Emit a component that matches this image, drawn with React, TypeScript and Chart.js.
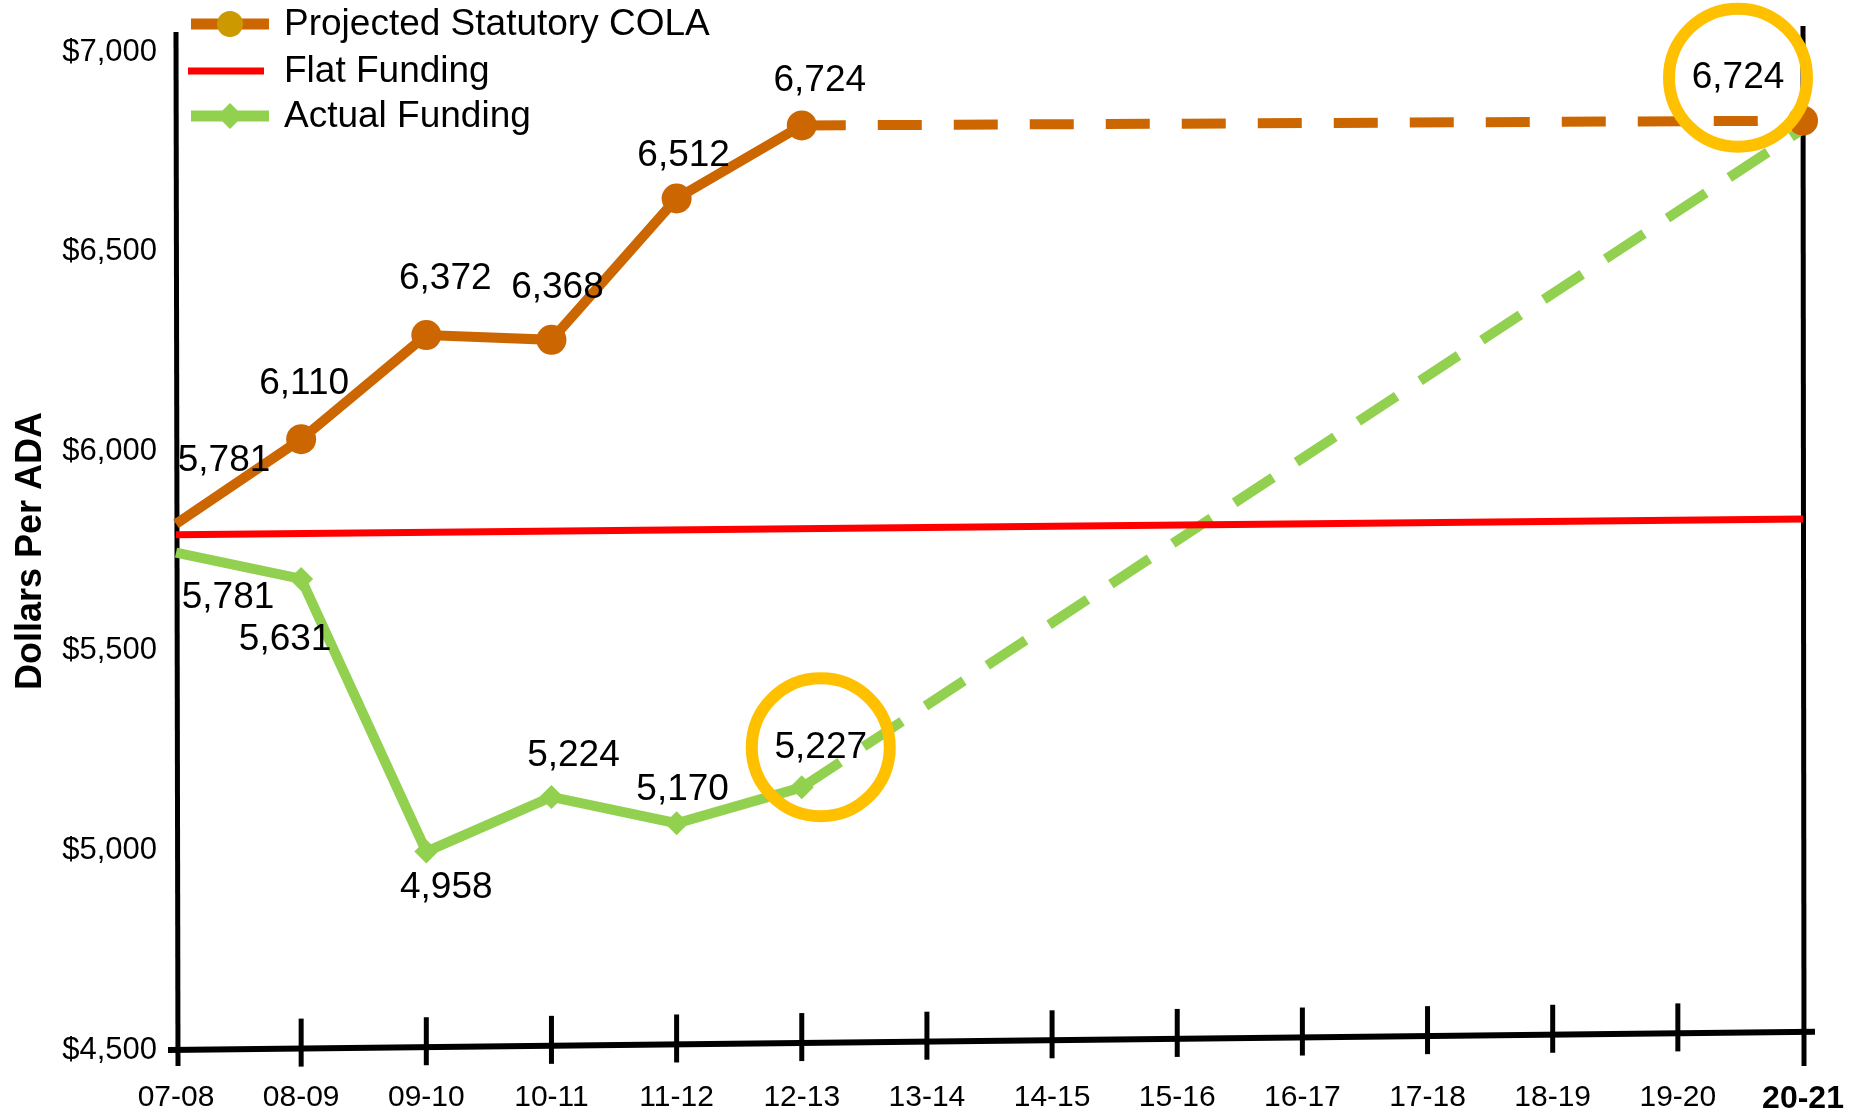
import React, { useEffect, useRef } from "react";
import { Chart, registerables } from "chart.js";

Chart.register(...registerables);

// ---------- DATA ----------
const categories = [
  "07-08", "08-09", "09-10", "10-11", "11-12", "12-13", "13-14",
  "14-15", "15-16", "16-17", "17-18", "18-19", "19-20", "20-21",
];

// Plotted positions (read against the y axis)
const colaValues = [5818, 6030, 6291, 6279, 6633, 6816, null, null, null, null, null, null, null, 6828];
const flatValues = [5791, null, null, null, null, null, null, null, null, null, null, null, null, 5830];
const actualValues = [5746, 5680, 4997, 5134, 5068, 5158, null, null, null, null, null, null, null, 6807];

// Printed data labels
const colaLabels = ["5,781", "6,110", "6,372", "6,368", "6,512", "6,724", null, null, null, null, null, null, null, "6,724"];
const actualLabels = ["5,781", "5,631", "4,958", "5,224", "5,170", "5,227", null, null, null, null, null, null, null, null];

const seriesNames = ["Projected Statutory COLA", "Flat Funding", "Actual Funding"];
const yMin = 4500;
const yMax = 7000;
const yStep = 500;
const lastActualIndex = 5; // after this the series are projections (dashed)

// ---------- STYLE ----------
const FONT = "'Liberation Sans', Arial, Helvetica, sans-serif";
const COLA = "#CC6600";
const COLA_LEGEND_MARK = "#CC9900";
const FLAT = "#FF0000";
const ACTUAL = "#92D050";
const RING = "#FFC000";

// label offsets relative to each point (px)
const colaLabelOffsets: Record<number, [number, number]> = {
  0: [48, -63], 1: [3, -55], 2: [19, -56], 3: [6, -52], 4: [7, -43], 5: [18, -45], 13: [-65, -43],
};
const actualLabelOffsets: Record<number, [number, number]> = {
  0: [52, 45], 1: [-16, 61], 2: [20, 36], 3: [22, -41], 4: [6, -33], 5: [19, -40],
};
const ringed = [
  { dataset: 0, index: 13 },
  { dataset: 2, index: 5 },
];

function labelPos(chart: any, ds: number, idx: number) {
  const el = chart.getDatasetMeta(ds).data[idx];
  const off = ds === 0 ? colaLabelOffsets[idx] : actualLabelOffsets[idx];
  return { x: el.x + off[0], y: el.y + off[1] };
}

const axesPlugin = {
  id: "handAxes",
  beforeDatasetsDraw(chart: any) {
    const { ctx, chartArea, scales } = chart;
    const { left, right, top, bottom } = chartArea;
    const tilt = 18;
    const axisY = (px: number) => bottom - (tilt * (px - left)) / (right - left);
    ctx.save();
    ctx.strokeStyle = "#000";
    ctx.lineCap = "butt";
    ctx.lineWidth = 5;
    ctx.beginPath();
    ctx.moveTo(left, top - 20);
    ctx.lineTo(left + 2, bottom + 16);
    ctx.stroke();
    ctx.beginPath();
    ctx.moveTo(right, top - 26);
    ctx.lineTo(right + 1, bottom + 16);
    ctx.stroke();
    ctx.lineWidth = 6;
    ctx.beginPath();
    ctx.moveTo(left - 8, axisY(left - 8));
    ctx.lineTo(right + 12, axisY(right + 12));
    ctx.stroke();
    ctx.lineWidth = 5;
    for (let i = 1; i < categories.length - 1; i++) {
      const px = scales.x.getPixelForTick(i);
      const ay = axisY(px);
      ctx.beginPath();
      ctx.moveTo(px, ay - 30);
      ctx.lineTo(px, ay + 18);
      ctx.stroke();
    }
    ctx.restore();
  },
};

const annotPlugin = {
  id: "annotations",
  afterDatasetsDraw(chart: any) {
    const { ctx } = chart;
    ctx.save();
    // rings
    ctx.strokeStyle = RING;
    ctx.lineWidth = 12;
    ringed.forEach((r) => {
      const p = labelPos(chart, r.dataset, r.index);
      ctx.beginPath();
      ctx.arc(p.x, p.y, 69, 0, Math.PI * 2);
      ctx.stroke();
    });
    // data labels
    ctx.fillStyle = "#000";
    ctx.font = `37px ${FONT}`;
    ctx.textAlign = "center";
    ctx.textBaseline = "middle";
    colaLabels.forEach((t, i) => {
      if (!t) return;
      const p = labelPos(chart, 0, i);
      ctx.fillText(t, p.x, p.y);
    });
    actualLabels.forEach((t, i) => {
      if (!t) return;
      const p = labelPos(chart, 2, i);
      ctx.fillText(t, p.x, p.y);
    });
    ctx.restore();
  },
  afterDraw(chart: any) {
    // legend
    const { ctx } = chart;
    const ds = chart.data.datasets;
    const rows = [24, 71, 116];
    const x0 = 191;
    const x1 = 269;
    const tx = 284;
    ctx.save();
    ctx.lineCap = "butt";
    ds.forEach((d: any, i: number) => {
      const y = rows[i];
      ctx.strokeStyle = d.borderColor;
      ctx.lineWidth = i === 1 ? 7 : 11;
      ctx.beginPath();
      ctx.moveTo(i === 1 ? x0 - 3 : x0, y);
      ctx.lineTo(i === 1 ? x1 - 5 : x1, y);
      ctx.stroke();
      const cx = (x0 + x1) / 2;
      if (i === 0) {
        ctx.fillStyle = COLA_LEGEND_MARK;
        ctx.beginPath();
        ctx.arc(cx, y, 13, 0, Math.PI * 2);
        ctx.fill();
      } else if (i === 2) {
        ctx.fillStyle = ACTUAL;
        ctx.beginPath();
        ctx.moveTo(cx, y - 13);
        ctx.lineTo(cx + 13, y);
        ctx.lineTo(cx, y + 13);
        ctx.lineTo(cx - 13, y);
        ctx.closePath();
        ctx.fill();
      }
      ctx.fillStyle = "#000";
      ctx.font = `37px ${FONT}`;
      ctx.textAlign = "left";
      ctx.textBaseline = "middle";
      ctx.fillText(d.label, tx, y + 1);
    });
    ctx.restore();
  },
};

export default function App() {
  const ref = useRef<HTMLCanvasElement | null>(null);

  useEffect(() => {
    if (!ref.current) return;
    const dashAfter = (dash: number[]) => (c: any) =>
      c.p0DataIndex >= lastActualIndex ? dash : undefined;

    const chart = new Chart(ref.current, {
      type: "line",
      data: {
        labels: categories,
        datasets: [
          {
            label: seriesNames[0],
            data: colaValues,
            borderColor: COLA,
            backgroundColor: COLA,
            borderWidth: 10,
            spanGaps: true,
            tension: 0,
            clip: false,
            pointStyle: "circle",
            pointRadius: (c: any) => (c.dataIndex === 0 ? 0 : 15),
            pointBackgroundColor: COLA,
            pointBorderWidth: 0,
            borderCapStyle: "butt",
            segment: { borderDash: dashAfter([44, 32]) },
          },
          {
            label: seriesNames[1],
            data: flatValues,
            borderColor: FLAT,
            backgroundColor: FLAT,
            borderWidth: 7,
            spanGaps: true,
            tension: 0,
            clip: false,
            pointRadius: 0,
            borderCapStyle: "butt",
          },
          {
            label: seriesNames[2],
            data: actualValues,
            borderColor: ACTUAL,
            backgroundColor: ACTUAL,
            borderWidth: 10,
            spanGaps: true,
            tension: 0,
            clip: false,
            pointStyle: "rectRot",
            pointRadius: (c: any) => (c.dataIndex === 0 || c.dataIndex === 13 ? 0 : 12),
            pointBackgroundColor: ACTUAL,
            pointBorderWidth: 0,
            borderCapStyle: "butt",
            segment: { borderDash: dashAfter([46, 28]) },
          },
        ],
      },
      options: {
        responsive: false,
        animation: false,
        devicePixelRatio: 1,
        layout: { padding: { top: 52, right: 73, left: 0, bottom: 0 } },
        plugins: {
          legend: { display: false },
          tooltip: { enabled: false },
          title: { display: false },
        },
        scales: {
          x: {
            type: "category",
            offset: false,
            grid: { display: false, drawTicks: false },
            border: { display: false },
            afterFit: (s: any) => {
              s.height = 68;
            },
            ticks: {
              autoSkip: false,
              maxRotation: 0,
              minRotation: 0,
              padding: 30,
              color: "#000",
              font: (c: any) =>
                c.index === categories.length - 1
                  ? { family: FONT, size: 32, weight: "bold" }
                  : { family: FONT, size: 30 },
            },
          },
          y: {
            min: yMin,
            max: yMax,
            grid: { display: false, drawTicks: false },
            border: { display: false },
            afterFit: (s: any) => {
              s.width = 176;
            },
            ticks: {
              stepSize: yStep,
              padding: 19,
              color: "#000",
              font: { family: FONT, size: 31 },
              callback: (v: any) => "$" + Number(v).toLocaleString("en-US"),
            },
            title: {
              display: true,
              text: "Dollars Per ADA",
              color: "#000",
              font: { family: FONT, size: 36, weight: "bold" },
              padding: { top: 9, bottom: 0 },
            },
          },
        },
      },
      plugins: [axesPlugin, annotPlugin],
    } as any);
    return () => chart.destroy();
  }, []);

  return (
    <div style={{ position: "absolute", left: 0, top: 0, width: 1876, height: 1118, background: "#fff" }}>
      <canvas ref={ref} width={1876} height={1118} />
    </div>
  );
}
